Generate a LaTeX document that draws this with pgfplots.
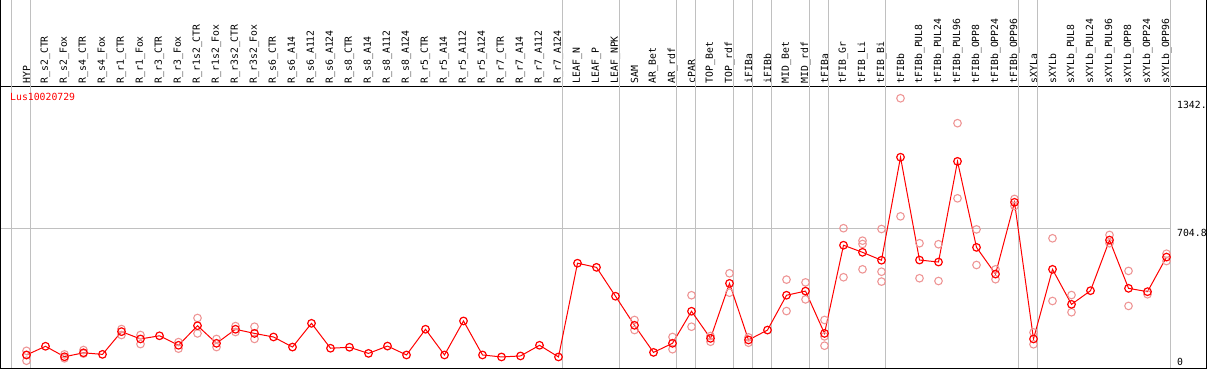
\documentclass[border=0pt]{standalone}
\usepackage{pgfplots}
\pgfplotsset{compat=1.18}
\usepackage{fontspec}
\setmainfont{DejaVu Sans Mono}
\definecolor{sep}{RGB}{192,192,192}
\definecolor{rep}{RGB}{238,150,150}
\begin{document}
\fontsize{9.8}{10}\selectfont
\begin{tikzpicture}
\begin{axis}[
  scale only axis, width=1205pt, height=282pt,
  xmin=-1.342, xmax=62.079, ymin=-3, ymax=1423,
  clip=false,
  axis line style={black, line width=1pt},
  ytick=\empty,
  xtick={0,...,60},
  xticklabel pos=upper,
  major tick length=0pt,
  xticklabel style={rotate=90, anchor=west, inner xsep=2.5pt, inner ysep=0pt, font=\fontsize{9.8}{10}\selectfont},
  xticklabels={HYP,R\_s2\_CTR,R\_s2\_Fox,R\_s4\_CTR,R\_s4\_Fox,R\_r1\_CTR,R\_r1\_Fox,R\_r3\_CTR,R\_r3\_Fox,R\_r1s2\_CTR,R\_r1s2\_Fox,R\_r3s2\_CTR,R\_r3s2\_Fox,R\_s6\_CTR,R\_s6\_A14,R\_s6\_A112,R\_s6\_A124,R\_s8\_CTR,R\_s8\_A14,R\_s8\_A112,R\_s8\_A124,R\_r5\_CTR,R\_r5\_A14,R\_r5\_A112,R\_r5\_A124,R\_r7\_CTR,R\_r7\_A14,R\_r7\_A112,R\_r7\_A124,LEAF\_N,LEAF\_P,LEAF\_NPK,SAM,AR\_Bet,AR\_rdf,cPAR,TOP\_Bet,TOP\_rdf,iFIBa,iFIBb,MID\_Bet,MID\_rdf,tFIBa,tFIB\_Gr,tFIB\_Li,tFIB\_Bi,tFIBb,tFIBb\_PUL8,tFIBb\_PUL24,tFIBb\_PUL96,tFIBb\_OPP8,tFIBb\_OPP24,tFIBb\_OPP96,sXYLa,sXYLb,sXYLb\_PUL8,sXYLb\_PUL24,sXYLb\_PUL96,sXYLb\_OPP8,sXYLb\_OPP24,sXYLb\_OPP96},
]
% separators and grid line
\pgfplotsinvokeforeach{-0.78,0.22,28.22,31.22,34.22,35.22,37.22,38.22,39.22,41.22,42.22,45.22,52.22,53.22,60.22}{
  \draw[sep, line width=1pt] (axis cs:#1,-3) -- (axis cs:#1,1858);
}
\draw[sep, line width=1pt] (axis cs:-1.342,704.8) -- (axis cs:60.22,704.8);
% outer frame of label area
\draw[black, line width=1pt] (axis cs:-1.342,1423) -- (axis cs:-1.342,1858) -- (axis cs:62.079,1858) -- (axis cs:62.079,1423);
% replicates
\addplot[only marks, mark=o, mark size=3.8pt, mark options={rep, line width=1.1pt}] table {
x y
0 84
0 63
0 34
2 66
2 46
3 88
3 70
5 194
5 164
6 164
6 118
8 128
8 95
9 250
9 172
10 144
10 103
11 209
11 179
12 206
12 144
32 240
32 189
34 154
34 92
35 365
35 206
36 159
36 130
37 476
37 378
38 152
38 125
40 444
40 285
41 430
41 344
42 240
42 157
42 110
43 704
43 456
44 641
44 624
44 496
45 700
45 484
45 434
46 1361
46 764
47 628
47 451
48 623
48 437
49 1235
49 855
50 698
50 518
51 496
51 446
52 852
52 816
53 177
53 117
54 653
54 336
55 366
55 279
57 670
57 628
58 488
58 311
59 370
60 575
60 538
};
% main series
\addplot[red, line width=1pt, mark=o, mark size=3.8pt, mark options={red, line width=1.2pt}] table {
x y
0 63
1 107
2 54
3 74
4 66
5 181
6 144
7 160
8 112
9 211
10 122
11 193
12 172
13 154
14 103
15 223
16 97
17 102
18 71
19 108
20 63
21 193
22 63
23 235
24 63
25 53
26 58
27 112
28 53
29 527
30 506
31 360
32 213
33 76
34 122
35 284
36 147
37 425
38 139
39 189
40 365
41 386
42 172
43 618
44 582
45 542
46 1063
47 543
48 533
49 1042
50 607
51 472
52 835
53 144
54 496
55 319
56 388
57 644
58 400
59 383
60 558
};
\node[anchor=west, red, inner sep=0pt] at (axis cs:-0.868,1368) {Lus10020729};
\node[anchor=north west, inner sep=0pt] at (axis cs:60.55,1347) {1342.};
\node[anchor=north west, inner sep=0pt] at (axis cs:60.55,698) {704.8};
\node[anchor=base west, inner sep=0pt] at (axis cs:60.55,12) {0};
\end{axis}
\pgfresetboundingbox
\useasboundingbox ([shift={(-1pt,-2pt)}]current axis.south west) rectangle ([shift={(3pt,86pt)}]current axis.north east);
\end{tikzpicture}
\end{document}
